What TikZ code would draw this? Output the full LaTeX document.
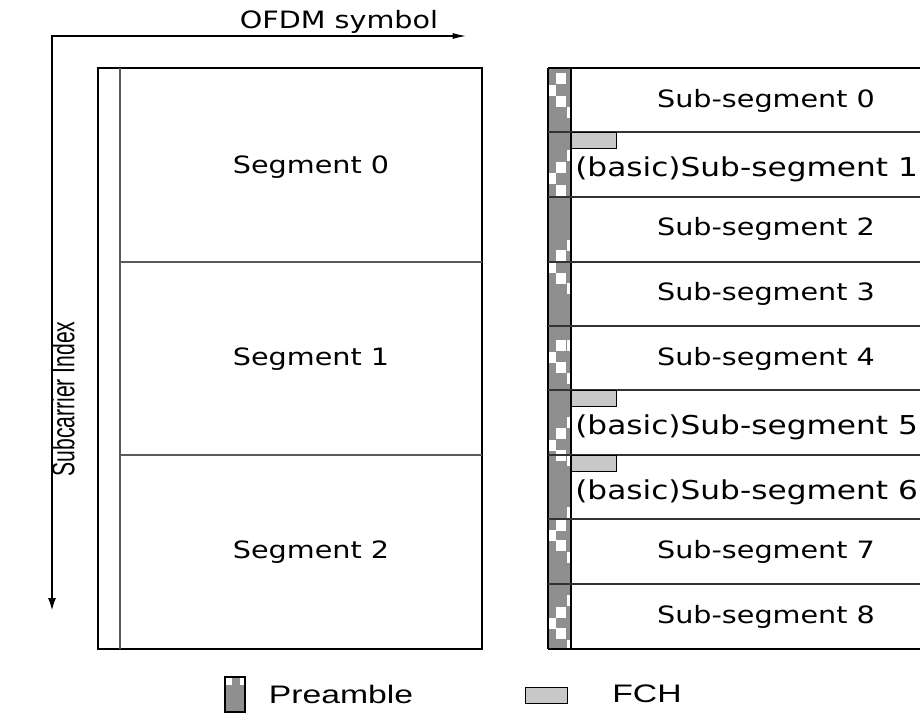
\documentclass[tikz,border=0pt]{standalone}
\usepackage{fontspec}
\setmainfont[FakeStretch=1.2]{DejaVu Sans}
\newfontfamily\legfont[FakeStretch=1.33]{Liberation Sans}
\newfontfamily\rotfont[FakeStretch=0.66]{Liberation Sans}
\usetikzlibrary{arrows.meta}
\definecolor{pregray}{HTML}{8F8F8F}
\definecolor{fchgray}{HTML}{C8C8C8}
\definecolor{linegray}{HTML}{5A5A5A}
\tikzset{
  lbl/.style={inner sep=0pt, font=\fontsize{17.9}{21}\selectfont},
  basiclbl/.style={inner sep=0pt, anchor=west, font=\fontsize{19.5}{22}\selectfont},
  leg/.style={inner sep=0pt, font=\legfont\fontsize{19}{22}\selectfont},
  frame/.style={draw=black, line width=0.8pt},
  divider/.style={draw=linegray, line width=0.8pt},
  fchbox/.style={draw=black, fill=fchgray, line width=0.75pt},
  wblk/.style={fill=white, draw=none},
}
\begin{document}
\begin{tikzpicture}[x=0.75pt,y=-0.75pt]
\useasboundingbox (0,0) rectangle (920,726);
\clip (0,0) rectangle (920,726);
% axes
\coordinate (corner) at (52,36);
\coordinate (xend) at (466,36);
\coordinate (yend) at (52,610);
\draw[line width=0.8pt, {Latex[length=9pt,width=6pt]}-{Latex[length=10pt,width=4.5pt]}] (yend) -- (corner) -- (xend);
\node[lbl] (ofdm) at (339,22) {OFDM symbol};
\node[inner sep=0pt, rotate=90, font=\rotfont\fontsize{24}{26}\selectfont] (sci) at (63,399) {Subcarrier Index};
% left block
\draw[frame] (98,68) rectangle (482,649);
\draw[divider] (120,68) -- (120,649);
\draw[divider] (120,262) -- (482,262);
\draw[divider] (120,455) -- (482,455);
\node[lbl] (seg0) at (311,167) {Segment 0};
\node[lbl] (seg1) at (311,359) {Segment 1};
\node[lbl] (seg2) at (311,552) {Segment 2};
% right block preamble strip
\fill[pregray] (548,68) rectangle (571,649);
\foreach \y/\c in {73/1,85/0,96/1,107/2,
                   150/2,162/1,173/0,185/1,
                   240/2,250/1,
                   262/0,273/1,283/2,
                   340/1,340/2,352/0,362/1,373/2,
                   417/2,428/1,440/0,450/1,
                   455/2,507/2,
                   520/1,530/0,540/1,552/2,
                   595/2,607/1,618/0,628/1,640/2}{
  \ifcase\c
    \fill[wblk] (548,\y) rectangle (556,\y+11);
  \or
    \fill[wblk] (556,\y) rectangle (566,\y+11);
  \or
    \fill[wblk] (566.5,\y) rectangle (570,\y+11);
  \fi
}
\draw[frame] (548,68) -- (548,649);
\draw[frame] (571,68) -- (571,649);
\draw[frame] (548,68) -- (930,68);
\draw[frame] (548,649) -- (930,649);
\foreach \y in {132,197,262,326,390,455,519,584}{
  \draw[draw=black!80, line width=0.8pt] (548,\y) -- (930,\y);
}
% FCH boxes
\draw[fchbox] (571,132) rectangle (616,148);
\draw[fchbox] (571,390) rectangle (616,406);
\draw[fchbox] (571,455) rectangle (616,471);
% sub-segment labels
\node[lbl] (ss0) at (766,101) {Sub-segment 0};
\node[basiclbl] (ss1) at (575,169) {(basic)Sub-segment 1};
\node[lbl] (ss2) at (766,229) {Sub-segment 2};
\node[lbl] (ss3) at (766,294) {Sub-segment 3};
\node[lbl] (ss4) at (766,359) {Sub-segment 4};
\node[basiclbl] (ss5) at (575,427) {(basic)Sub-segment 5};
\node[basiclbl] (ss6) at (575,492) {(basic)Sub-segment 6};
\node[lbl] (ss7) at (766,552) {Sub-segment 7};
\node[lbl] (ss8) at (766,617) {Sub-segment 8};
% legend
\fill[pregray] (225,677) rectangle (245,712);
\fill[white] (226,678) rectangle (232,685);
\fill[white] (239.5,678) rectangle (244,685);
\draw[black, line width=0.8pt] (225,677) rectangle (245,712);
\node[leg] (pre) at (341,694) {Preamble};
\draw[fchbox] (525,687) rectangle (567,703);
\node[leg] (fch) at (647,694) {FCH};
\end{tikzpicture}
\end{document}
